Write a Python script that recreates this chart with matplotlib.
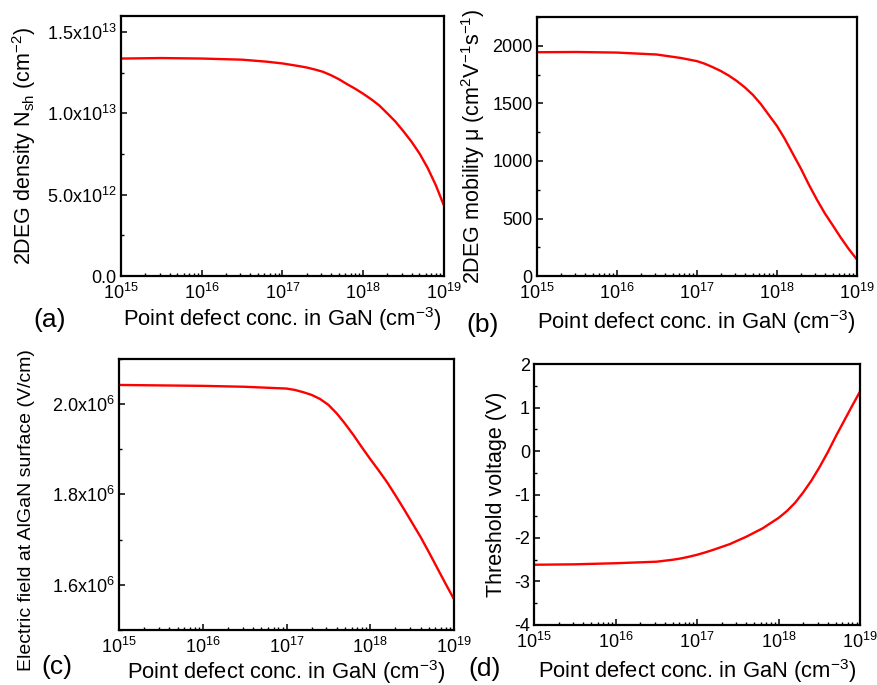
import numpy as np
import matplotlib
matplotlib.use('Agg')
import matplotlib.pyplot as plt
from matplotlib.ticker import FixedLocator, MultipleLocator, LogLocator, NullFormatter, FuncFormatter

plt.rcParams['font.family'] = ['Liberation Sans', 'DejaVu Sans']
plt.rcParams['mathtext.fontset'] = 'custom'
plt.rcParams['mathtext.rm'] = 'Liberation Sans'
plt.rcParams['mathtext.it'] = 'Liberation Sans:italic'
plt.rcParams['mathtext.default'] = 'regular'
plt.rcParams['axes.unicode_minus'] = False

# point defect concentration (cm^-3), as log10 exponents
log_a = [15, 15.5, 16, 16.5, 16.8, 17.0, 17.2, 17.3, 17.4, 17.5, 17.6, 17.7, 17.8, 17.9, 18.0, 18.1, 18.2,
         18.3, 18.4, 18.5, 18.6, 18.7, 18.8, 18.9, 19.0]
nsh = [1.337, 1.34, 1.337, 1.33, 1.318, 1.307, 1.291, 1.282, 1.27, 1.256, 1.235, 1.21, 1.18, 1.152, 1.121,
       1.087, 1.049, 1.0, 0.95, 0.89, 0.826, 0.753, 0.665, 0.56, 0.436]  # x1e13

log_b = [15, 15.5, 16, 16.5, 16.8, 17.0, 17.1, 17.2, 17.3, 17.4, 17.5, 17.6, 17.7, 17.8, 17.9,
         18.0, 18.1, 18.2, 18.3, 18.4, 18.5, 18.6, 18.7, 18.8, 18.9, 19.0]
mob = [1945, 1947, 1942, 1925, 1895, 1868, 1845, 1815, 1782, 1742, 1695, 1640, 1575, 1495, 1400,
       1306, 1192, 1063, 935, 795, 665, 545, 440, 333, 234, 145]

log_c = [15, 16, 16.5, 17.0, 17.1, 17.2, 17.3, 17.4, 17.5, 17.6, 17.7, 17.8, 17.9, 18.0, 18.1,
         18.2, 18.3, 18.4, 18.5, 18.6, 18.7, 18.8, 18.9, 19.0]
efield = [2.042, 2.040, 2.038, 2.034, 2.031, 2.026, 2.020, 2.011, 1.998, 1.979, 1.956, 1.931, 1.904,
          1.878, 1.853, 1.827, 1.798, 1.768, 1.737, 1.706, 1.672, 1.637, 1.602, 1.568]  # x1e6

log_d = [15, 15.5, 16, 16.5, 16.7, 16.8, 16.9, 17.0, 17.1, 17.2, 17.4, 17.6, 17.8, 18.0, 18.1, 18.2,
         18.3, 18.4, 18.5, 18.6, 18.7, 18.8, 18.9, 19.0]
vth = [-2.615, -2.605, -2.58, -2.545, -2.5, -2.47, -2.43, -2.385, -2.33, -2.27, -2.14, -1.972, -1.78,
       -1.535, -1.38, -1.19, -0.95, -0.68, -0.37, -0.03, 0.34, 0.69, 1.04, 1.38]

xlab = 'Point defect conc. in GaN (cm$^{-3}$)'

fig = plt.figure(figsize=(8.77, 6.85), dpi=100)
ax_a = fig.add_axes([0.138, 0.597, 0.368, 0.380])
ax_b = fig.add_axes([0.612, 0.597, 0.365, 0.378])
ax_c = fig.add_axes([0.1357, 0.0803, 0.382, 0.396])
ax_d = fig.add_axes([0.609, 0.0876, 0.372, 0.381])


def style(ax):
    ax.set_xscale('log')
    ax.set_xlim(1e15, 1e19)
    ax.xaxis.set_major_locator(LogLocator(base=10, numticks=10))
    ax.xaxis.set_minor_locator(LogLocator(base=10, subs=np.arange(2, 10), numticks=20))
    ax.xaxis.set_minor_formatter(NullFormatter())
    for s in ax.spines.values():
        s.set_linewidth(1.6)
    ax.tick_params(which='major', direction='in', length=4, width=1.1, labelsize=13)
    ax.tick_params(which='minor', direction='in', length=2.2, width=1.0)
    ax.tick_params(axis='x', which='major', pad=5)
    ax.tick_params(axis='y', which='major', pad=3)
    ax.set_xlabel(xlab, fontsize=15.8)


def xs(logs):
    return 10.0 ** np.array(logs)


ax_a.plot(xs(log_a), np.array(nsh) * 1e13, color='#ff0000', lw=1.7)
style(ax_a)
ax_a.set_ylim(0, 1.6e13)
ax_a.yaxis.set_major_locator(FixedLocator([0, 0.5e13, 1.0e13, 1.5e13]))
ax_a.set_yticklabels(['0.0', '5.0x10$^{12}$', '1.0x10$^{13}$', '1.5x10$^{13}$'])
ax_a.yaxis.set_minor_locator(MultipleLocator(0.25e13))
ax_a.set_ylabel('2DEG density N$_{sh}$ (cm$^{-2}$)', fontsize=15.5)
ax_a.yaxis.set_label_coords(-0.257, 0.5)
ax_a.xaxis.set_label_coords(0.5, -0.11)

ax_b.plot(xs(log_b), mob, color='#ff0000', lw=1.7)
style(ax_b)
ax_b.set_ylim(0, 2250)
ax_b.yaxis.set_major_locator(MultipleLocator(500))
ax_b.yaxis.set_minor_locator(MultipleLocator(250))
ax_b.set_ylabel('2DEG mobility μ (cm$^2$V$^{-1}$s$^{-1}$)', fontsize=15.5)
ax_b.yaxis.set_label_coords(-0.156, 0.5)
ax_b.xaxis.set_label_coords(0.5, -0.125)

ax_c.plot(xs(log_c), np.array(efield) * 1e6, color='#ff0000', lw=1.7)
style(ax_c)
ax_c.set_ylim(1.5e6, 2.1e6)
ax_c.yaxis.set_major_locator(FixedLocator([1.6e6, 1.8e6, 2.0e6]))
ax_c.set_yticklabels(['1.6x10$^6$', '1.8x10$^6$', '2.0x10$^6$'])
ax_c.yaxis.set_minor_locator(MultipleLocator(0.1e6))
ax_c.set_ylabel('Electric field at AlGaN surface (V/cm)', fontsize=14)
ax_c.yaxis.set_label_coords(-0.251, 0.443)
ax_c.xaxis.set_label_coords(0.5, -0.104)

ax_d.plot(xs(log_d), vth, color='#ff0000', lw=1.7)
style(ax_d)
ax_d.set_ylim(-4, 2)
ax_d.yaxis.set_major_locator(MultipleLocator(1))
ax_d.yaxis.set_minor_locator(MultipleLocator(0.5))
ax_d.yaxis.set_major_formatter(FuncFormatter(lambda v, p: '%d' % round(v)))
ax_d.set_ylabel('Threshold voltage (V)', fontsize=15.5)
ax_d.yaxis.set_label_coords(-0.083, 0.5)
ax_d.xaxis.set_label_coords(0.5, -0.124)

fig.text(0.057, 0.533, '(a)', fontsize=19, ha='center', va='center')
fig.text(0.550, 0.526, '(b)', fontsize=19, ha='center', va='center')
fig.text(0.065, 0.027, '(c)', fontsize=19, ha='center', va='center')
fig.text(0.553, 0.024, '(d)', fontsize=19, ha='center', va='center')

fig.savefig('out.png', dpi=100)
